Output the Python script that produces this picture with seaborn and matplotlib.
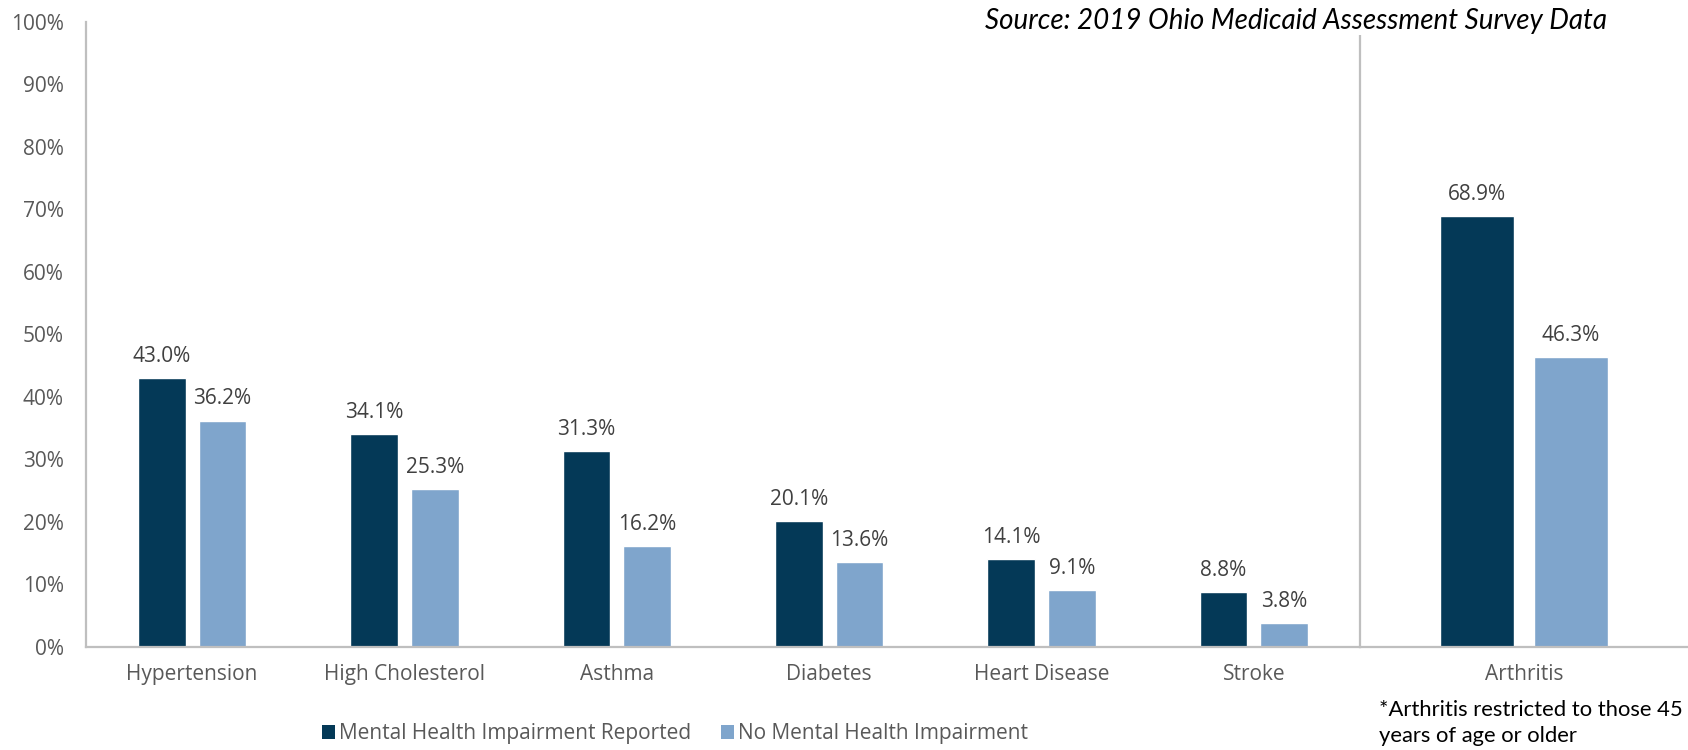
import numpy as np
import pandas as pd
import matplotlib
matplotlib.use("Agg")
import matplotlib.pyplot as plt
import seaborn as sns
from matplotlib.patches import Patch
from matplotlib.ticker import FuncFormatter, MultipleLocator

# ---- data ----
conditions = ["Hypertension", "High Cholesterol", "Asthma", "Diabetes", "Heart Disease", "Stroke"]
impairment = [43.0, 34.1, 31.3, 20.1, 14.1, 8.8]
no_impairment = [36.2, 25.3, 16.2, 13.6, 9.1, 3.8]
arth_condition = ["Arthritis"]
arth_impairment = [68.9]
arth_no_impairment = [46.3]
series_names = ["Mental Health Impairment Reported", "No Mental Health Impairment"]
colors = ["#043957", "#7FA5CC"]

source_text = "Source: 2019 Ohio Medicaid Assessment Survey Data"
footnote_text = "*Arthritis restricted to those 45\nyears of age or older"

def long_df(cats, a, b):
    return pd.DataFrame({
        "condition": cats * 2,
        "value": list(a) + list(b),
        "group": [series_names[0]] * len(cats) + [series_names[1]] * len(cats),
    })

df_left = long_df(conditions, impairment, no_impairment)
df_right = long_df(arth_condition, arth_impairment, arth_no_impairment)

sns.set_theme(style="white")
plt.rcParams["font.family"] = ["Open Sans", "DejaVu Sans"]

W, H, DPI = 16.88, 7.5, 100
fig = plt.figure(figsize=(W, H), dpi=DPI)

x0, xdiv, x1 = 86 / 1688, 1360 / 1688, 1.0
ybot, ytop = 1 - 647 / 750, 1 - 21.5 / 750
ax1 = fig.add_axes([x0, ybot, xdiv - x0, ytop - ybot])
ax2 = fig.add_axes([xdiv, ybot, x1 - xdiv, ytop - ybot], sharey=ax1)

grey = "#BFBFBF"
txt = "#595959"
palette = dict(zip(series_names, colors))

for ax, df in [(ax1, df_left), (ax2, df_right)]:
    sns.barplot(data=df, x="condition", y="value", hue="group", hue_order=series_names,
                palette=palette, width=0.57, gap=0.21, errorbar=None, legend=False,
                saturation=1, ax=ax)
    for cont in ax.containers:
        ax.bar_label(cont, labels=[f"{b.get_height():.1f}%" for b in cont],
                     padding=8, fontsize=15, color="#404040")
    ax.set_xlabel("")
    ax.set_ylabel("")
    for s in ["top", "right"]:
        ax.spines[s].set_visible(False)
    for s in ["left", "bottom"]:
        ax.spines[s].set_color(grey)
        ax.spines[s].set_linewidth(1.6)
    ax.tick_params(axis="x", length=0, pad=12, labelsize=15, labelcolor=txt)
    ax.tick_params(axis="y", length=5, width=1.3, color=grey, pad=11, labelsize=15, labelcolor=txt)

ax1.set_ylim(0, 100)
ax1.yaxis.set_major_locator(MultipleLocator(10))
ax1.yaxis.set_major_formatter(FuncFormatter(lambda v, p: f"{v:.0f}%"))
ax2.tick_params(axis="y", labelleft=False)

handles = [Patch(facecolor=c, edgecolor="none") for c in colors]
fig.legend(handles, series_names, loc="center", bbox_to_anchor=(675 / 1688, 1 - 734 / 750),
           ncol=2, frameon=False, fontsize=15, labelcolor=txt,
           handlelength=0.65, handleheight=0.65, handletextpad=0.2, columnspacing=1.4)

fig.text(1607 / 1688, 1 - 21.5 / 750, source_text, ha="right", va="center",
         fontsize=20, style="italic", family=["Lato", "DejaVu Sans"], color="black",
         zorder=10, bbox=dict(facecolor="white", edgecolor="none", pad=0))
fig.text(1379 / 1688, 1 - 700 / 750, footnote_text, ha="left", va="top",
         fontsize=15.8, family=["Lato", "DejaVu Sans"], color="black", linespacing=1.4)

fig.savefig("out.png", dpi=DPI)
